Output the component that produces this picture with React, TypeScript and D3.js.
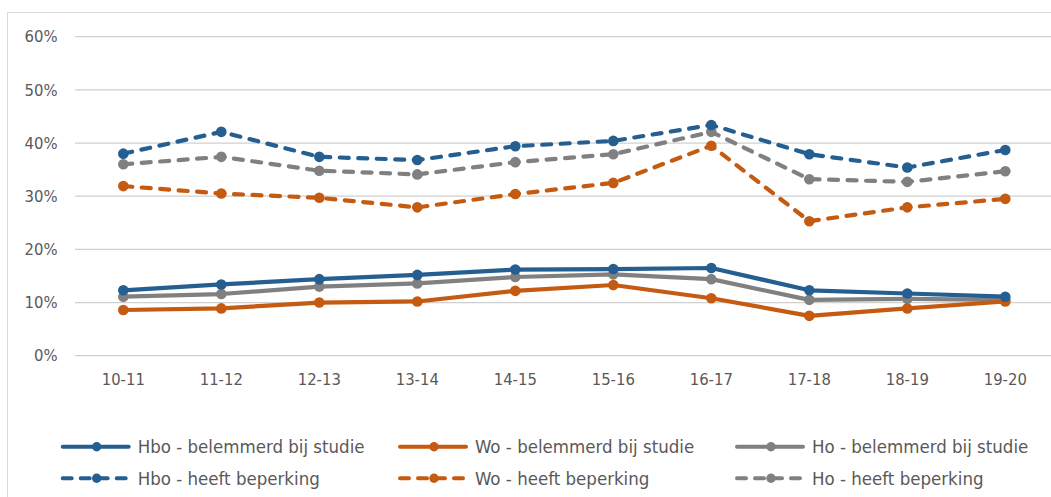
import React from "react";
import * as d3 from "d3";

const categories = ["10-11", "11-12", "12-13", "13-14", "14-15", "15-16", "16-17", "17-18", "18-19", "19-20"];
const hboBelemmerd = [12.3, 13.4, 14.4, 15.2, 16.2, 16.3, 16.5, 12.3, 11.7, 11.1];
const woBelemmerd = [8.6, 8.9, 10.0, 10.2, 12.2, 13.3, 10.8, 7.5, 8.9, 10.2];
const hoBelemmerd = [11.1, 11.6, 13.0, 13.6, 14.8, 15.3, 14.4, 10.5, 10.7, 10.5];
const hboBeperking = [38.0, 42.1, 37.4, 36.8, 39.4, 40.4, 43.4, 37.9, 35.4, 38.7];
const woBeperking = [31.9, 30.5, 29.7, 27.9, 30.4, 32.5, 39.5, 25.3, 27.9, 29.5];
const hoBeperking = [36.0, 37.4, 34.8, 34.1, 36.4, 37.9, 42.1, 33.2, 32.7, 34.7];
const yTicks = [0, 10, 20, 30, 40, 50, 60];

const BLUE = "#255E91";
const ORANGE = "#C55A11";
const GRAY = "#808080";

const series = [
  { name: "Hbo - belemmerd bij studie", values: hboBelemmerd, color: BLUE, dashed: false },
  { name: "Wo - belemmerd bij studie", values: woBelemmerd, color: ORANGE, dashed: false },
  { name: "Ho - belemmerd bij studie", values: hoBelemmerd, color: GRAY, dashed: false },
  { name: "Hbo - heeft beperking", values: hboBeperking, color: BLUE, dashed: true },
  { name: "Wo - heeft beperking", values: woBeperking, color: ORANGE, dashed: true },
  { name: "Ho - heeft beperking", values: hoBeperking, color: GRAY, dashed: true },
];

const drawOrder = [5, 4, 3, 2, 1, 0];

const W = 1051;
const H = 497;
const FONT = "'DejaVu Sans Condensed', 'DejaVu Sans', sans-serif";
const TEXT = "#595959";

export default function App() {
  const x = d3.scaleBand<string>().domain(categories).range([74.3, 1054.3]);
  const cx = (c: string) => (x(c) as number) + x.bandwidth() / 2;
  const y = d3.scaleLinear().domain([0, 60]).range([355.7, 36.7]);
  const line = d3
    .line<number>()
    .x((_, i) => cx(categories[i]))
    .y((d) => y(d));

  const legendCols = [60.7, 398, 735];
  const legendRows = [446.7, 478.3];

  return (
    <svg
      width={W}
      height={H}
      style={{ position: "absolute", left: 0, top: 0, background: "#fff" }}
      fontFamily={FONT}
    >
      <rect x={0} y={0} width={W} height={H} fill="#fff" />
      <path d={`M7.5,${H} V12.5 H${W}`} fill="none" stroke="#D9D9D9" strokeWidth={1} />
      {yTicks.map((t) => (
        <g key={t}>
          <line x1={75} x2={W} y1={y(t)} y2={y(t)} stroke="#D0D0D0" strokeWidth={1.3} />
          <text x={57.5} y={y(t)} dy="0.35em" textAnchor="end" fontSize={16.5} fill={TEXT}>
            {t}%
          </text>
        </g>
      ))}
      {categories.map((c) => (
        <text key={c} x={cx(c)} y={379.5} dy="0.35em" textAnchor="middle" fontSize={16.5} fill={TEXT}>
          {c}
        </text>
      ))}
      {drawOrder.map((i) => {
        const s = series[i];
        return (
          <g key={s.name}>
            <path
              d={line(s.values) || ""}
              fill="none"
              stroke={s.color}
              strokeWidth={4.2}
              strokeLinejoin="round"
              strokeLinecap="round"
              strokeDasharray={s.dashed ? "9 9.5" : undefined}
            />
            {s.values.map((v, j) => (
              <circle key={j} cx={cx(categories[j])} cy={y(v)} r={5.3} fill={s.color} />
            ))}
          </g>
        );
      })}
      {series.map((s, i) => {
        const col = i % 3;
        const row = Math.floor(i / 3);
        const lx = legendCols[col];
        const ly = legendRows[row];
        return (
          <g key={s.name}>
            <line
              x1={lx + 2}
              x2={lx + 68}
              y1={ly}
              y2={ly}
              stroke={s.color}
              strokeWidth={4}
              strokeLinecap="round"
              strokeDasharray={s.dashed ? "9 9" : undefined}
            />
            <circle cx={lx + 36} cy={ly} r={4.7} fill={s.color} />
            <text x={lx + 77} y={ly} dy="0.35em" fontSize={18.5} fill={TEXT}>
              {s.name}
            </text>
          </g>
        );
      })}
    </svg>
  );
}
